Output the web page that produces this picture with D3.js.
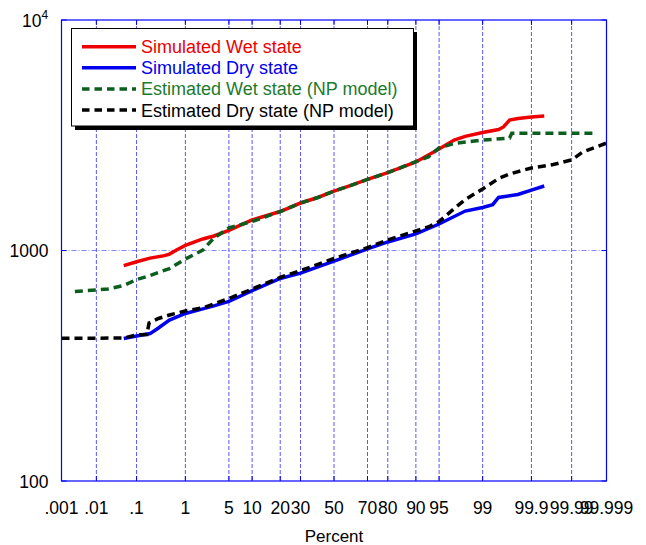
<!DOCTYPE html>
<head>
    <title>Wet / dry state probability plot</title>
    <script src="https://cdn.jsdelivr.net/npm/d3@7"></script>
</head>
<style>
body {
  margin: 0;
  background: #fff;
  font-family: "Liberation Sans", Arial, Helvetica, sans-serif;
}
</style>
<body>
    <svg id="chart"></svg>
</body>

<script>

    // Data: exceedance percent (normal probability axis) and value
    var simWetPct = [0.05, 0.1, 0.2, 0.4, 0.5, 0.7, 1, 2, 3, 5, 10, 20, 30, 40, 50, 60, 70, 80, 85, 90, 95, 97, 98, 99, 99.5, 99.6, 99.7, 99.8, 99.9, 99.95];
    var simWetVal = [860, 894, 927, 950, 965, 1007, 1052, 1122, 1156, 1222, 1356, 1476, 1607, 1698, 1811, 1913, 2033, 2178, 2281, 2421, 2754, 3013, 3126, 3251, 3350, 3436, 3681, 3739, 3797, 3830];

    var simDryPct = [0.05, 0.1, 0.2, 0.3, 0.5, 1, 2, 3, 5, 10, 20, 30, 50, 70, 80, 90, 95, 98, 99, 99.35, 99.5, 99.8, 99.9, 99.95];
    var simDryVal = [415, 426, 436, 461, 499, 533, 558, 575, 601, 670, 756, 798, 899, 1016, 1089, 1180, 1303, 1483, 1537, 1580, 1698, 1750, 1829, 1905];

    var estWetPct = [0.0025, 0.01, 0.02, 0.05, 0.1, 0.2, 0.5, 1, 2, 3, 5, 10, 20, 30, 40, 50, 60, 70, 80, 85, 90, 93, 95, 97, 99, 99.7, 99.73, 99.99, 99.9975];
    var estWetVal = [664, 674, 681, 705, 748, 779, 835, 918, 1004, 1132, 1253, 1336, 1476, 1607, 1698, 1811, 1913, 2033, 2178, 2281, 2432, 2545, 2786, 2913, 3013, 3074, 3226, 3226, 3226];

    var estDryPct = [0.001, 0.05, 0.1, 0.17, 0.19, 0.3, 0.5, 1, 2, 3, 5, 10, 20, 30, 50, 70, 80, 90, 93, 95, 97, 98, 99, 99.5, 99.7, 99.9, 99.97, 99.99, 99.995, 99.999];
    var estDryVal = [416, 417, 430, 432, 485, 507, 525, 547, 564, 586, 619, 681, 764, 818, 923, 1030, 1111, 1216, 1265, 1336, 1520, 1663, 1849, 2052, 2147, 2281, 2361, 2471, 2673, 2925];

    var xTicks = [0.001, 0.01, 0.1, 1, 5, 10, 20, 30, 50, 70, 80, 90, 95, 99, 99.9, 99.99, 99.999];
    var xTickLabels = [".001", ".01", ".1", "1", "5", "10", "20", "30", "50", "70", "80", "90", "95", "99", "99.9", "99.99", "99.999"];
    var yTicks = [100, 1000, 10000];

    var seriesNames = ["Simulated Wet state", "Simulated Dry state", "Estimated Wet state (NP model)", "Estimated Dry state (NP model)"];

    // Variables
    var width = 646;
    var height = 545;
    var plot = {left: 61.5, right: 606.5, top: 20, bottom: 481};

    // inverse normal CDF (Acklam's approximation), used for the probability axis
    function qnorm(p) {
        var a = [-3.969683028665376e+01, 2.209460984245205e+02, -2.759285104469687e+02, 1.383577518672690e+02, -3.066479806614716e+01, 2.506628277459239e+00];
        var b = [-5.447609879822406e+01, 1.615858368580409e+02, -1.556989798598866e+02, 6.680131188771972e+01, -1.328068155288572e+01];
        var c = [-7.784894002430293e-03, -3.223964580411365e-01, -2.400758277161838e+00, -2.549732539343734e+00, 4.374664141464968e+00, 2.938163982698783e+00];
        var d = [7.784695709041462e-03, 3.224671290700398e-01, 2.445134137142996e+00, 3.754408661907416e+00];
        var plow = 0.02425, q, r;
        if (p < plow) {
            q = Math.sqrt(-2 * Math.log(p));
            return (((((c[0]*q+c[1])*q+c[2])*q+c[3])*q+c[4])*q+c[5]) / ((((d[0]*q+d[1])*q+d[2])*q+d[3])*q+1);
        }
        if (p > 1 - plow) {
            q = Math.sqrt(-2 * Math.log(1 - p));
            return -(((((c[0]*q+c[1])*q+c[2])*q+c[3])*q+c[4])*q+c[5]) / ((((d[0]*q+d[1])*q+d[2])*q+d[3])*q+1);
        }
        q = p - 0.5;
        r = q * q;
        return (((((a[0]*r+a[1])*r+a[2])*r+a[3])*r+a[4])*r+a[5])*q / (((((b[0]*r+b[1])*r+b[2])*r+b[3])*r+b[4])*r+1);
    }

    var zScale = d3.scaleLinear()
        .domain([qnorm(0.00001), qnorm(0.99999)])
        .range([plot.left, plot.right]);
    var x = function (pct) { return zScale(qnorm(pct / 100)); };

    var y = d3.scaleLog()
        .domain([100, 10000])
        .range([plot.bottom, plot.top]);

    var svg = d3.select('#chart')
        .attr('width', width)
        .attr('height', height);

    // grid
    var grid = svg.append('g');
    grid.selectAll('.vgrid')
        .data(xTicks)
        .enter().append('line')
        .attr('x1', function (d) { return x(d); })
        .attr('x2', function (d) { return x(d); })
        .attr('y1', plot.top)
        .attr('y2', plot.bottom)
        .style('stroke', '#2020ff')
        .style('stroke-opacity', 0.75)
        .style('stroke-width', 1)
        .style('stroke-dasharray', '4,2');
    grid.append('line')
        .attr('x1', plot.left).attr('x2', plot.right)
        .attr('y1', y(1000)).attr('y2', y(1000))
        .style('stroke', '#2020ff')
        .style('stroke-opacity', 0.55)
        .style('stroke-width', 1)
        .style('stroke-dasharray', '5,2,1,2');

    // tick marks on the frame
    var ticks = svg.append('g').style('stroke', '#0000ff').style('stroke-width', 1);
    xTicks.forEach(function (t) {
        ticks.append('line').attr('x1', x(t)).attr('x2', x(t)).attr('y1', plot.top).attr('y2', plot.top + 5);
        ticks.append('line').attr('x1', x(t)).attr('x2', x(t)).attr('y1', plot.bottom).attr('y2', plot.bottom - 5);
    });
    yTicks.forEach(function (t) {
        ticks.append('line').attr('x1', plot.left).attr('x2', plot.left + 5).attr('y1', y(t)).attr('y2', y(t));
        ticks.append('line').attr('x1', plot.right).attr('x2', plot.right - 5).attr('y1', y(t)).attr('y2', y(t));
    });

    // series
    var series = [
        {pct: simWetPct, val: simWetVal, color: '#ee0000', text: '#ee0000', dash: null},
        {pct: simDryPct, val: simDryVal, color: '#0000ee', text: '#0000ee', dash: null},
        {pct: estWetPct, val: estWetVal, color: '#0b5e1d', text: '#1d7a2e', dash: '8,5'},
        {pct: estDryPct, val: estDryVal, color: '#000000', text: '#000000', dash: '8,5'}
    ];

    var line = d3.line()
        .x(function (d) { return x(d[0]); })
        .y(function (d) { return y(d[1]); });

    svg.append('g').selectAll('path')
        .data(series)
        .enter().append('path')
        .attr('d', function (s) { return line(s.pct.map(function (p, i) { return [p, s.val[i]]; })); })
        .style('fill', 'none')
        .style('stroke', function (s) { return s.color; })
        .style('stroke-width', 3.5)
        .style('stroke-dasharray', function (s) { return s.dash; });

    // frame
    svg.append('rect')
        .attr('x', plot.left).attr('y', plot.top)
        .attr('width', plot.right - plot.left).attr('height', plot.bottom - plot.top)
        .style('fill', 'none')
        .style('stroke', '#0000ff')
        .style('stroke-width', 1.2);

    // x tick labels
    svg.append('g').selectAll('text')
        .data(xTicks)
        .enter().append('text')
        .attr('x', function (d) { return x(d); })
        .attr('y', 514)
        .attr('text-anchor', 'middle')
        .style('font-size', '17.5px')
        .text(function (d, i) { return xTickLabels[i]; });

    // y tick labels
    svg.append('text').attr('x', 48.5).attr('y', y(100) + 6.5).attr('text-anchor', 'end')
        .style('font-size', '17.5px').text('100');
    svg.append('text').attr('x', 48.5).attr('y', y(1000) + 6.5).attr('text-anchor', 'end')
        .style('font-size', '17.5px').text('1000');
    var sup = svg.append('text').attr('x', 22).attr('y', y(10000) + 6.5)
        .style('font-size', '17.5px');
    sup.append('tspan').text('10');
    sup.append('tspan').attr('dy', -8).style('font-size', '12px').text('4');

    // axis title
    svg.append('text')
        .attr('x', zScale(0)).attr('y', 541.5)
        .attr('text-anchor', 'middle')
        .style('font-size', '17px')
        .text('Percent');

    // legend
    var lg = svg.append('g');
    lg.append('rect')
        .attr('x', 75).attr('y', 32).attr('width', 342).attr('height', 98)
        .style('fill', '#000');
    lg.append('rect')
        .attr('x', 71.5).attr('y', 28.5).attr('width', 342).attr('height', 97.5)
        .style('fill', '#fff')
        .style('stroke', '#000')
        .style('stroke-width', 1);

    var rows = lg.selectAll('.row')
        .data(series)
        .enter().append('g')
        .attr('transform', function (d, i) { return 'translate(0,' + (46.7 + i * 21.1) + ')'; });
    rows.append('line')
        .attr('x1', 82).attr('x2', 136)
        .style('stroke', function (s) { return s.color; })
        .style('stroke-width', 3.5)
        .style('stroke-dasharray', function (s) { return s.dash ? '7.5,5' : null; });
    rows.append('text')
        .attr('x', 141).attr('y', 6.5)
        .style('font-size', '18px')
        .style('fill', function (s) { return s.text; })
        .text(function (s, i) { return seriesNames[i]; });

</script>
